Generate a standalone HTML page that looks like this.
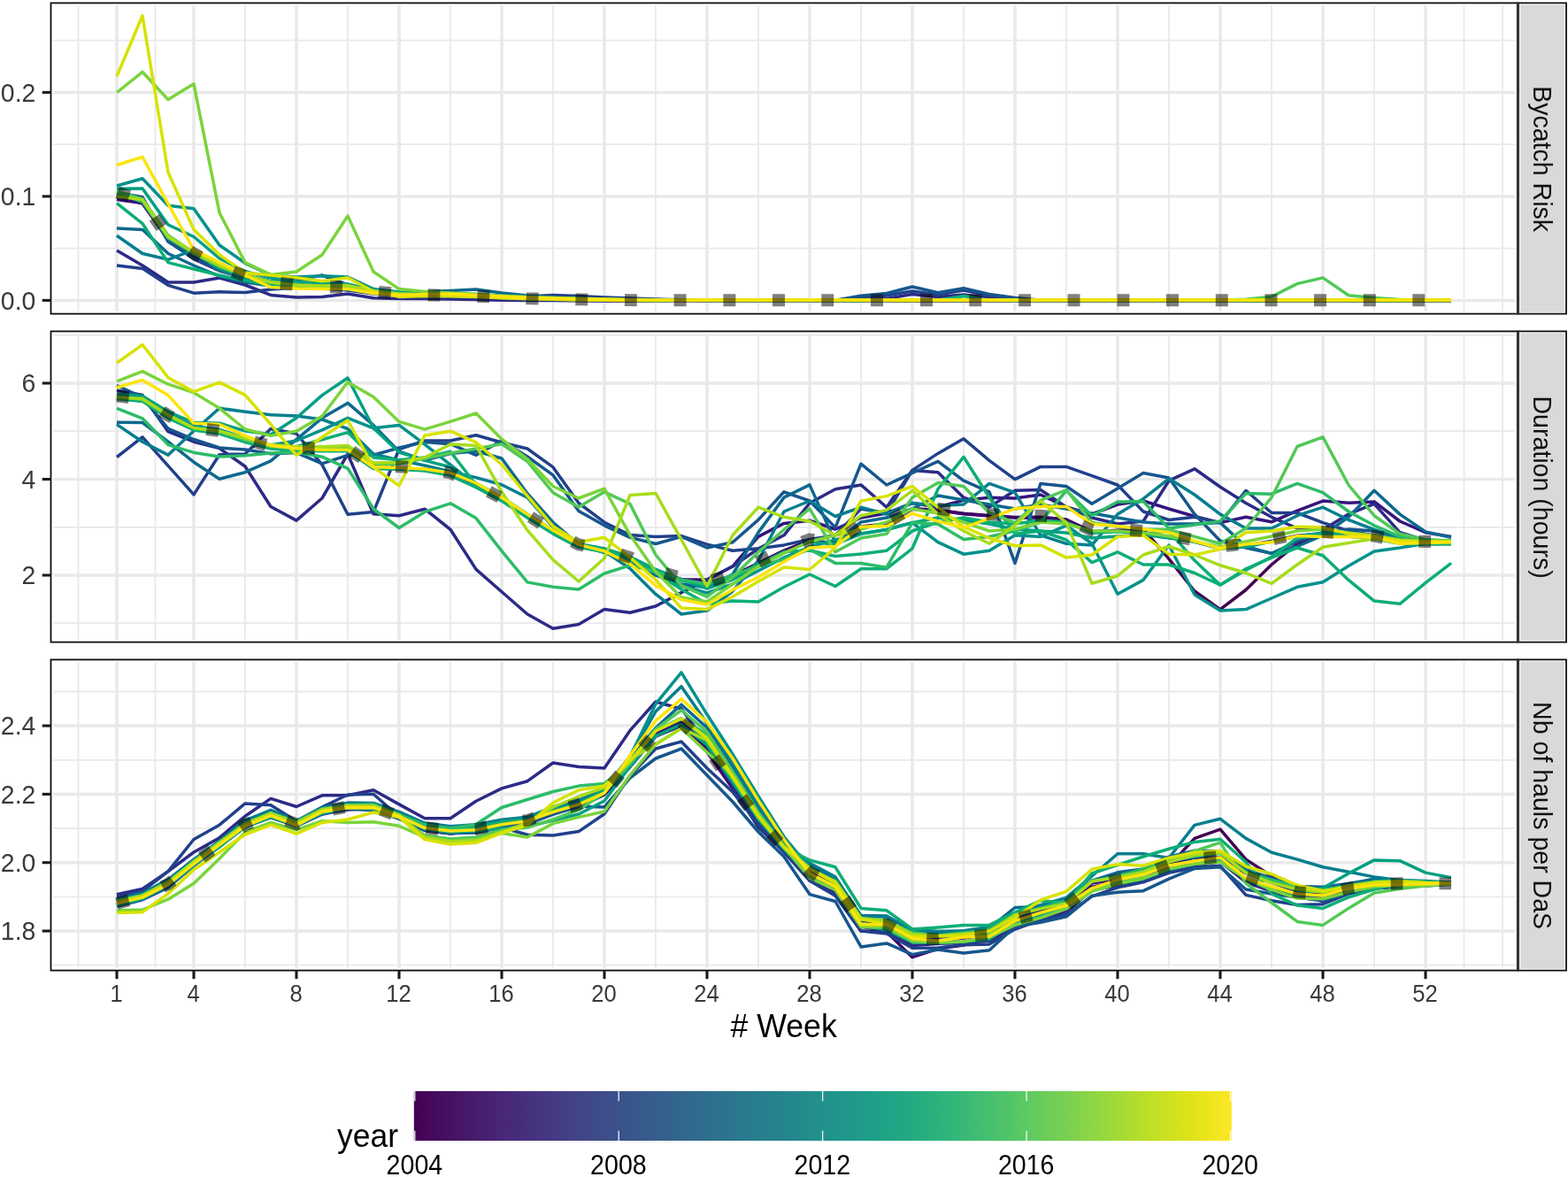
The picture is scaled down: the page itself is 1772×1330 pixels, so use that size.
<!DOCTYPE html>
<html lang="en"><head><meta charset="utf-8"><title>Weekly bycatch risk, duration and hauls per DaS by year</title>
<style>html,body{margin:0;padding:0;background:#fff}body{width:1772px;height:1330px;overflow:hidden}svg{display:block}text{font-family:"Liberation Sans", sans-serif}</style>
</head><body>
<svg width="1772" height="1330" viewBox="0 0 1772 1330">
<rect width="1772" height="1330" fill="#fff"/>
<g id="panel1">
<clipPath id="clip0"><rect x="60.1" y="6.1" width="1651.7" height="345.7"/></clipPath>
<path d="M60.1 280.6H1711.8M60.1 163.2H1711.8M60.1 45.7H1711.8M88.5 6.1V351.8M175.5 6.1V351.8M277.0 6.1V351.8M393.0 6.1V351.8M509.0 6.1V351.8M625.0 6.1V351.8M741.0 6.1V351.8M857.0 6.1V351.8M973.0 6.1V351.8M1089.0 6.1V351.8M1205.0 6.1V351.8M1321.0 6.1V351.8M1437.0 6.1V351.8M1553.0 6.1V351.8M1654.5 6.1V351.8M1698.0 6.1V351.8" stroke="#e9e9e9" stroke-width="1.8" fill="none"/>
<path d="M60.1 339.4H1711.8M60.1 221.9H1711.8M60.1 104.4H1711.8M132.0 6.1V351.8M219.0 6.1V351.8M335.0 6.1V351.8M451.0 6.1V351.8M567.0 6.1V351.8M683.0 6.1V351.8M799.0 6.1V351.8M915.0 6.1V351.8M1031.0 6.1V351.8M1147.0 6.1V351.8M1263.0 6.1V351.8M1379.0 6.1V351.8M1495.0 6.1V351.8M1611.0 6.1V351.8" stroke="#e9e9e9" stroke-width="3.5" fill="none"/>
<g clip-path="url(#clip0)" fill="none" stroke-linejoin="round" stroke-linecap="butt" stroke-width="3.5">
<path d="M132.0 219.0L161.0 226.5L190.0 267.5L219.0 286.0L248.0 300.5L277.0 311.0L306.0 318.0L335.0 321.5L364.0 323.5L393.0 324.5L422.0 329.0L451.0 331.5L480.0 333.0L509.0 334.3L538.0 335.0L567.0 336.4L596.0 337.5L625.0 338.1L654.0 338.6L683.0 339.0L712.0 339.2L741.0 339.4L770.0 339.3L799.0 339.4L828.0 339.4L857.0 339.4L886.0 339.4L915.0 339.4L944.0 339.4L973.0 339.4L1002.0 339.4L1031.0 339.4L1060.0 339.4L1089.0 339.4L1118.0 339.4L1147.0 339.4L1176.0 339.4L1205.0 339.4L1234.0 339.4L1263.0 339.4L1292.0 339.4L1321.0 339.4L1350.0 339.4L1379.0 339.4L1408.0 339.4L1437.0 339.4L1466.0 339.4L1495.0 339.4L1524.0 339.4L1553.0 339.4L1582.0 339.4L1611.0 339.4L1640.0 339.4" stroke="#440054"/>
<path d="M132.0 221.0L161.0 230.0L190.0 270.0L219.0 289.0L248.0 303.0L277.0 313.0L306.0 319.5L335.0 323.0L364.0 325.0L393.0 327.0L422.0 331.0L451.0 333.5L480.0 335.0L509.0 336.1L538.0 336.6L567.0 337.8L596.0 338.8L625.0 339.2L654.0 339.5L683.0 339.7L712.0 339.8L741.0 339.8L770.0 339.5L799.0 339.9L828.0 339.9L857.0 339.9L886.0 339.9L915.0 339.9L944.0 339.9L973.0 339.9L1002.0 339.9L1031.0 339.9L1060.0 339.9L1089.0 339.9L1118.0 339.9L1147.0 339.9L1176.0 339.9L1205.0 339.9L1234.0 339.9L1263.0 339.9L1292.0 339.9L1321.0 339.9L1350.0 339.9L1379.0 339.9L1408.0 339.9L1437.0 339.9L1466.0 339.9L1495.0 339.9L1524.0 339.9L1553.0 339.9L1582.0 339.9L1611.0 339.9L1640.0 339.9" stroke="#3e006a"/>
<path d="M132.0 225.5L161.0 229.6L190.0 271.0L219.0 292.6L248.0 306.0L277.0 314.0L306.0 319.0L335.0 323.0L364.0 325.0L393.0 326.0L422.0 331.0L451.0 333.0L480.0 334.0L509.0 334.7L538.0 335.4L567.0 336.7L596.0 337.8L625.0 338.3L654.0 338.9L683.0 339.2L712.0 339.4L741.0 339.5L770.0 339.4L799.0 339.6L828.0 339.6L857.0 339.6L886.0 339.6L915.0 339.6L944.0 339.6L973.0 339.6L1002.0 339.6L1031.0 339.6L1060.0 339.6L1089.0 339.6L1118.0 339.6L1147.0 339.6L1176.0 339.6L1205.0 339.6L1234.0 339.6L1263.0 339.6L1292.0 339.6L1321.0 339.6L1350.0 339.6L1379.0 339.6L1408.0 339.6L1437.0 339.6L1466.0 339.6L1495.0 339.6L1524.0 339.6L1553.0 339.6L1582.0 339.6L1611.0 339.6L1640.0 339.6" stroke="#36147b"/>
<path d="M132.0 283.0L161.0 300.0L190.0 319.0L219.0 319.0L248.0 314.0L277.0 322.0L306.0 333.4L335.0 335.9L364.0 335.4L393.0 332.0L422.0 336.8L451.0 337.5L480.0 337.6L509.0 338.0L538.0 338.6L567.0 339.2L596.0 339.5L625.0 339.4L654.0 339.8L683.0 339.9L712.0 339.9L741.0 339.8L770.0 339.6L799.0 340.1L828.0 340.1L857.0 340.1L886.0 340.1L915.0 340.1L944.0 340.1L973.0 340.1L1002.0 337.5L1031.0 332.5L1060.0 335.5L1089.0 333.0L1118.0 336.5L1147.0 338.7L1176.0 339.3L1205.0 340.1L1234.0 340.1L1263.0 340.1L1292.0 340.1L1321.0 340.1L1350.0 340.1L1379.0 340.1L1408.0 340.1L1437.0 340.1L1466.0 340.1L1495.0 340.1L1524.0 340.1L1553.0 340.1L1582.0 340.1L1611.0 340.1L1640.0 340.1" stroke="#2c2a86"/>
<path d="M132.0 300.0L161.0 303.4L190.0 322.4L219.0 331.2L248.0 329.8L277.0 330.5L306.0 327.0L335.0 325.0L364.0 326.0L393.0 328.0L422.0 332.0L451.0 334.0L480.0 335.0L509.0 335.5L538.0 336.0L567.0 336.0L596.0 335.0L625.0 333.5L654.0 334.5L683.0 336.0L712.0 337.0L741.0 338.0L770.0 338.8L799.0 339.3L828.0 339.3L857.0 339.3L886.0 339.3L915.0 339.3L944.0 339.3L973.0 337.0L1002.0 334.0L1031.0 329.0L1060.0 333.0L1089.0 328.0L1118.0 334.0L1147.0 338.0L1176.0 339.3L1205.0 339.3L1234.0 339.3L1263.0 339.3L1292.0 339.3L1321.0 339.3L1350.0 339.3L1379.0 339.3L1408.0 339.3L1437.0 339.3L1466.0 339.3L1495.0 339.3L1524.0 339.3L1553.0 339.3L1582.0 339.3L1611.0 339.3L1640.0 339.3" stroke="#21408b"/>
<path d="M132.0 217.5L161.0 222.8L190.0 273.0L219.0 292.0L248.0 305.4L277.0 313.0L306.0 318.0L335.0 316.5L364.0 311.0L393.0 322.0L422.0 330.0L451.0 333.0L480.0 333.0L509.0 332.9L538.0 333.8L567.0 335.3L596.0 336.6L625.0 337.3L654.0 337.9L683.0 338.4L712.0 338.8L741.0 339.1L770.0 339.2L799.0 339.1L828.0 339.1L857.0 339.1L886.0 339.1L915.0 339.1L944.0 339.3L973.0 334.2L1002.0 331.5L1031.0 324.0L1060.0 330.8L1089.0 325.8L1118.0 332.4L1147.0 336.4L1176.0 339.3L1205.0 339.1L1234.0 339.1L1263.0 339.1L1292.0 339.1L1321.0 339.1L1350.0 339.1L1379.0 339.1L1408.0 339.1L1437.0 339.1L1466.0 339.1L1495.0 339.1L1524.0 339.1L1553.0 339.1L1582.0 339.1L1611.0 339.1L1640.0 339.1" stroke="#16568d"/>
<path d="M132.0 258.0L161.0 259.4L190.0 286.5L219.0 300.0L248.0 312.2L277.0 319.0L306.0 323.0L335.0 325.0L364.0 326.0L393.0 327.0L422.0 330.0L451.0 331.0L480.0 329.8L509.0 328.4L538.0 327.0L567.0 331.0L596.0 334.0L625.0 336.0L654.0 337.5L683.0 338.5L712.0 339.3L741.0 339.3L770.0 339.3L799.0 339.3L828.0 339.3L857.0 339.3L886.0 339.3L915.0 339.3L944.0 339.3L973.0 339.3L1002.0 339.3L1031.0 339.3L1060.0 339.3L1089.0 339.3L1118.0 339.3L1147.0 339.3L1176.0 339.3L1205.0 339.3L1234.0 339.3L1263.0 339.3L1292.0 339.3L1321.0 339.3L1350.0 339.3L1379.0 339.3L1408.0 339.3L1437.0 339.3L1466.0 339.3L1495.0 339.3L1524.0 339.3L1553.0 339.3L1582.0 339.3L1611.0 339.3L1640.0 339.3" stroke="#0d698e"/>
<path d="M132.0 266.2L161.0 286.5L190.0 293.3L219.0 282.4L248.0 305.4L277.0 314.0L306.0 320.0L335.0 323.0L364.0 324.5L393.0 325.0L422.0 329.0L451.0 331.5L480.0 332.5L509.0 332.4L538.0 333.4L567.0 334.9L596.0 336.2L625.0 337.0L654.0 337.7L683.0 338.3L712.0 338.7L741.0 339.0L770.0 339.2L799.0 338.9L828.0 338.9L857.0 338.9L886.0 338.9L915.0 338.9L944.0 338.9L973.0 338.9L1002.0 338.9L1031.0 338.9L1060.0 338.9L1089.0 338.9L1118.0 338.9L1147.0 338.9L1176.0 338.9L1205.0 338.9L1234.0 338.9L1263.0 338.9L1292.0 338.9L1321.0 338.9L1350.0 338.9L1379.0 338.9L1408.0 338.9L1437.0 338.9L1466.0 338.9L1495.0 338.9L1524.0 338.9L1553.0 338.9L1582.0 338.9L1611.0 338.9L1640.0 338.9" stroke="#057e8e"/>
<path d="M132.0 210.0L161.0 201.8L190.0 232.3L219.0 235.7L248.0 277.0L277.0 297.3L306.0 311.0L335.0 313.0L364.0 311.7L393.0 313.0L422.0 326.6L451.0 330.0L480.0 331.0L509.0 331.5L538.0 332.6L567.0 334.2L596.0 335.6L625.0 336.4L654.0 337.3L683.0 337.9L712.0 338.4L741.0 338.8L770.0 339.1L799.0 338.7L828.0 338.7L857.0 338.7L886.0 338.7L915.0 338.7L944.0 338.7L973.0 338.7L1002.0 338.7L1031.0 338.7L1060.0 338.7L1089.0 338.7L1118.0 338.7L1147.0 338.7L1176.0 338.7L1205.0 338.7L1234.0 338.7L1263.0 338.7L1292.0 338.7L1321.0 338.7L1350.0 338.7L1379.0 338.7L1408.0 338.7L1437.0 338.7L1466.0 338.7L1495.0 338.7L1524.0 338.7L1553.0 338.7L1582.0 338.7L1611.0 338.7L1640.0 338.7" stroke="#02918b"/>
<path d="M132.0 213.3L161.0 213.0L190.0 254.0L219.0 267.5L248.0 292.0L277.0 306.8L306.0 314.0L335.0 318.0L364.0 320.0L393.0 321.0L422.0 328.0L451.0 331.0L480.0 332.0L509.0 332.4L538.0 333.4L567.0 334.9L596.0 336.2L625.0 337.0L654.0 337.7L683.0 338.3L712.0 338.7L741.0 339.0L770.0 339.2L799.0 338.9L828.0 338.9L857.0 338.9L886.0 338.9L915.0 338.9L944.0 338.9L973.0 338.9L1002.0 338.9L1031.0 338.9L1060.0 338.9L1089.0 338.9L1118.0 338.9L1147.0 338.9L1176.0 338.9L1205.0 338.9L1234.0 338.9L1263.0 338.9L1292.0 338.9L1321.0 338.9L1350.0 338.9L1379.0 338.9L1408.0 338.9L1437.0 338.9L1466.0 338.9L1495.0 338.9L1524.0 338.9L1553.0 338.9L1582.0 338.9L1611.0 338.9L1640.0 338.9" stroke="#00a082"/>
<path d="M132.0 229.6L161.0 252.6L190.0 296.6L219.0 304.0L248.0 311.0L277.0 317.0L306.0 322.0L335.0 324.0L364.0 325.5L393.0 326.0L422.0 330.0L451.0 332.0L480.0 333.5L509.0 334.3L538.0 335.0L567.0 336.4L596.0 337.5L625.0 338.1L654.0 338.6L683.0 339.0L712.0 339.2L741.0 339.4L770.0 339.3L799.0 339.4L828.0 339.4L857.0 339.4L886.0 339.4L915.0 339.4L944.0 339.4L973.0 339.4L1002.0 339.4L1031.0 339.4L1060.0 339.3L1089.0 334.5L1118.0 339.3L1147.0 339.4L1176.0 339.4L1205.0 339.4L1234.0 339.4L1263.0 339.4L1292.0 339.4L1321.0 339.4L1350.0 339.4L1379.0 339.4L1408.0 339.4L1437.0 339.4L1466.0 339.4L1495.0 339.4L1524.0 339.4L1553.0 339.4L1582.0 339.4L1611.0 339.4L1640.0 339.4" stroke="#0cae76"/>
<path d="M132.0 218.0L161.0 228.0L190.0 269.0L219.0 287.0L248.0 302.0L277.0 312.5L306.0 319.0L335.0 322.5L364.0 324.0L393.0 325.5L422.0 330.0L451.0 332.5L480.0 333.5L509.0 334.3L538.0 335.0L567.0 336.4L596.0 337.5L625.0 338.1L654.0 338.6L683.0 339.0L712.0 339.2L741.0 339.4L770.0 339.3L799.0 339.4L828.0 339.4L857.0 339.4L886.0 339.4L915.0 339.4L944.0 339.4L973.0 339.4L1002.0 339.4L1031.0 339.4L1060.0 339.4L1089.0 339.4L1118.0 339.4L1147.0 339.4L1176.0 339.4L1205.0 339.4L1234.0 339.4L1263.0 339.4L1292.0 339.4L1321.0 339.4L1350.0 339.4L1379.0 339.4L1408.0 339.4L1437.0 339.4L1466.0 339.4L1495.0 339.4L1524.0 339.4L1553.0 339.4L1582.0 339.4L1611.0 339.4L1640.0 339.4" stroke="#2cbc68"/>
<path d="M132.0 216.0L161.0 225.0L190.0 266.0L219.0 285.5L248.0 300.5L277.0 311.5L306.0 318.0L335.0 321.5L364.0 323.5L393.0 324.5L422.0 329.0L451.0 331.5L480.0 333.0L509.0 333.3L538.0 334.2L567.0 335.6L596.0 336.9L625.0 337.5L654.0 338.2L683.0 338.6L712.0 339.0L741.0 339.2L770.0 339.3L799.0 339.2L828.0 339.2L857.0 339.2L886.0 339.2L915.0 339.2L944.0 339.2L973.0 339.2L1002.0 339.2L1031.0 339.2L1060.0 339.2L1089.0 339.2L1118.0 339.2L1147.0 339.2L1176.0 339.2L1205.0 339.2L1234.0 339.2L1263.0 339.2L1292.0 339.2L1321.0 339.2L1350.0 339.2L1379.0 339.3L1408.0 338.2L1437.0 335.3L1466.0 320.6L1495.0 313.9L1524.0 333.7L1553.0 336.4L1582.0 338.5L1611.0 339.3L1640.0 339.2" stroke="#51c956"/>
<path d="M132.0 104.5L161.0 81.3L190.0 112.6L219.0 94.8L248.0 240.4L277.0 296.6L306.0 310.4L335.0 307.0L364.0 288.0L393.0 244.0L422.0 307.0L451.0 326.6L480.0 329.4L509.0 331.0L538.0 332.6L567.0 334.2L596.0 335.6L625.0 336.4L654.0 337.3L683.0 337.9L712.0 338.4L741.0 338.8L770.0 339.1L799.0 338.7L828.0 338.7L857.0 338.7L886.0 338.7L915.0 338.7L944.0 338.7L973.0 338.7L1002.0 338.7L1031.0 338.7L1060.0 338.7L1089.0 338.7L1118.0 338.7L1147.0 338.7L1176.0 338.7L1205.0 338.7L1234.0 338.7L1263.0 338.7L1292.0 338.7L1321.0 338.7L1350.0 338.7L1379.0 338.7L1408.0 338.7L1437.0 338.7L1466.0 338.7L1495.0 338.7L1524.0 338.7L1553.0 338.7L1582.0 338.7L1611.0 338.7L1640.0 338.7" stroke="#7ad43b"/>
<path d="M132.0 222.0L161.0 225.5L190.0 267.5L219.0 285.0L248.0 300.0L277.0 311.0L306.0 319.0L335.0 322.6L364.0 323.0L393.0 322.6L422.0 328.7L451.0 332.0L480.0 333.0L509.0 333.8L538.0 334.6L567.0 336.0L596.0 337.2L625.0 337.8L654.0 338.4L683.0 338.8L712.0 339.1L741.0 339.3L770.0 339.3L799.0 339.3L828.0 339.3L857.0 339.3L886.0 339.3L915.0 339.3L944.0 339.3L973.0 339.3L1002.0 339.3L1031.0 339.3L1060.0 339.3L1089.0 339.3L1118.0 339.3L1147.0 339.3L1176.0 339.3L1205.0 339.3L1234.0 339.3L1263.0 339.3L1292.0 339.3L1321.0 339.3L1350.0 339.3L1379.0 339.3L1408.0 339.3L1437.0 339.3L1466.0 339.3L1495.0 339.3L1524.0 339.3L1553.0 339.3L1582.0 339.3L1611.0 339.3L1640.0 339.3" stroke="#a7dc1b"/>
<path d="M132.0 86.3L161.0 17.8L190.0 194.7L219.0 259.4L248.0 287.8L277.0 308.2L306.0 311.0L335.0 313.8L364.0 317.8L393.0 313.8L422.0 329.4L451.0 335.4L480.0 334.5L509.0 334.7L538.0 335.4L567.0 336.7L596.0 337.8L625.0 338.3L654.0 338.9L683.0 339.2L712.0 339.4L741.0 339.5L770.0 339.4L799.0 339.6L828.0 339.6L857.0 339.6L886.0 339.6L915.0 339.6L944.0 339.6L973.0 339.6L1002.0 339.6L1031.0 339.6L1060.0 339.6L1089.0 339.6L1118.0 339.6L1147.0 339.6L1176.0 339.6L1205.0 339.6L1234.0 339.6L1263.0 339.6L1292.0 339.6L1321.0 339.6L1350.0 339.6L1379.0 339.6L1408.0 339.6L1437.0 339.6L1466.0 339.6L1495.0 339.6L1524.0 339.6L1553.0 339.6L1582.0 339.6L1611.0 339.6L1640.0 339.6" stroke="#d7e201"/>
<path d="M132.0 186.5L161.0 177.4L190.0 230.3L219.0 282.4L248.0 296.6L277.0 310.9L306.0 324.6L335.0 326.0L364.0 326.5L393.0 326.6L422.0 331.4L451.0 333.4L480.0 332.5L509.0 332.0L538.0 333.4L567.0 334.9L596.0 336.2L625.0 337.0L654.0 337.7L683.0 338.3L712.0 338.7L741.0 339.0L770.0 339.2L799.0 338.9L828.0 338.9L857.0 338.9L886.0 338.9L915.0 338.9L944.0 338.9L973.0 338.9L1002.0 338.9L1031.0 338.9L1060.0 338.9L1089.0 338.9L1118.0 338.9L1147.0 338.9L1176.0 338.9L1205.0 338.9L1234.0 338.9L1263.0 338.9L1292.0 338.9L1321.0 338.9L1350.0 338.9L1379.0 338.9L1408.0 338.9L1437.0 338.9L1466.0 338.9L1495.0 338.9L1524.0 338.9L1553.0 338.9L1582.0 338.9L1611.0 338.9L1640.0 338.9" stroke="#fde40b"/>
</g>
<path d="M132.7 217.6L145.9 221.8M174.4 245.7L182.4 257.1M214.5 283.6L219.0 286.5L226.6 290.4M263.3 307.0L276.3 311.8M317.0 319.9L330.8 321.5M373.2 324.3L387.0 324.8M428.0 330.0L441.8 331.2M483.6 333.3L497.4 333.6M539.4 334.7L553.2 335.3M594.7 337.1L596.0 337.2L608.5 337.5M650.4 338.3L654.0 338.4L664.2 338.5M706.0 339.0L712.0 339.1L719.8 339.2M761.6 339.3L770.0 339.3L775.6 339.3M817.4 339.3L828.0 339.3L831.4 339.3M873.0 339.3L886.0 339.3L887.0 339.3M928.3 339.3L942.2 339.3M984.0 339.3L998.0 339.3M1040.0 339.3L1054.0 339.3M1095.3 339.3L1109.2 339.3M1151.1 339.3L1165.0 339.3M1206.6 339.3L1220.5 339.3M1262.5 339.3L1263.0 339.3L1276.4 339.3M1318.0 339.3L1321.0 339.3L1332.0 339.3M1373.8 339.3L1379.0 339.3L1387.8 339.3M1429.5 339.3L1437.0 339.3L1443.5 339.3M1485.0 339.3L1495.0 339.3L1499.0 339.3M1540.8 339.3L1553.0 339.3L1554.8 339.3M1596.3 339.3L1610.2 339.3" fill="none" stroke="#000" stroke-opacity="0.5" stroke-width="13.9" stroke-linejoin="miter" stroke-linecap="butt"/>
<rect x="57.5" y="3.4" width="1657.9" height="351.2" fill="none" stroke="#0d0d0d" stroke-width="1.8"/>
<rect x="1715.4" y="3.4" width="54.6" height="351.2" fill="#d9d9d9" stroke="#0d0d0d" stroke-width="1.8"/>
<rect x="1717.7" y="5.0" width="50.7" height="348.0" fill="none" stroke="#fff" stroke-opacity="0.55" stroke-width="1.3"/>
<path d="M1715.4 2.9V355.1" stroke="#303030" stroke-width="3"/>
<text transform="translate(1732.8 179.6) rotate(90) scale(0.958 1)" text-anchor="middle" font-size="29.8" fill="#111">Bycatch Risk</text>
<path d="M47.7 339.4H57.0" stroke="#1a1a1a" stroke-width="3.1"/>
<text transform="translate(40.3 349.6) scale(0.94 1)" text-anchor="end" font-size="30.2" fill="#3a3a3a">0.0</text>
<path d="M47.7 221.9H57.0" stroke="#1a1a1a" stroke-width="3.1"/>
<text transform="translate(40.3 232.1) scale(0.94 1)" text-anchor="end" font-size="30.2" fill="#3a3a3a">0.1</text>
<path d="M47.7 104.4H57.0" stroke="#1a1a1a" stroke-width="3.1"/>
<text transform="translate(40.3 114.6) scale(0.94 1)" text-anchor="end" font-size="30.2" fill="#3a3a3a">0.2</text>
</g>
<g id="panel2">
<clipPath id="clip1"><rect x="60.1" y="377.1" width="1651.7" height="345.7"/></clipPath>
<path d="M60.1 704.2H1711.8M60.1 595.8H1711.8M60.1 487.2H1711.8M60.1 378.8H1711.8M88.5 377.1V722.8M175.5 377.1V722.8M277.0 377.1V722.8M393.0 377.1V722.8M509.0 377.1V722.8M625.0 377.1V722.8M741.0 377.1V722.8M857.0 377.1V722.8M973.0 377.1V722.8M1089.0 377.1V722.8M1205.0 377.1V722.8M1321.0 377.1V722.8M1437.0 377.1V722.8M1553.0 377.1V722.8M1654.5 377.1V722.8M1698.0 377.1V722.8" stroke="#e9e9e9" stroke-width="1.8" fill="none"/>
<path d="M60.1 650.0H1711.8M60.1 541.5H1711.8M60.1 433.0H1711.8M132.0 377.1V722.8M219.0 377.1V722.8M335.0 377.1V722.8M451.0 377.1V722.8M567.0 377.1V722.8M683.0 377.1V722.8M799.0 377.1V722.8M915.0 377.1V722.8M1031.0 377.1V722.8M1147.0 377.1V722.8M1263.0 377.1V722.8M1379.0 377.1V722.8M1495.0 377.1V722.8M1611.0 377.1V722.8" stroke="#e9e9e9" stroke-width="3.5" fill="none"/>
<g clip-path="url(#clip1)" fill="none" stroke-linejoin="round" stroke-linecap="butt" stroke-width="3.5">
<path d="M132.0 449.2L161.0 451.9L190.0 470.9L219.0 484.5L248.0 488.5L277.0 498.0L306.0 505.6L335.0 507.7L364.0 508.3L393.0 508.3L422.0 528.0L451.0 528.7L480.0 530.5L509.0 535.9L538.0 549.2L567.0 564.6L596.0 583.5L625.0 601.6L654.0 616.9L683.0 622.4L712.0 631.4L741.0 646.0L770.0 654.5L799.0 659.2L828.0 650.5L857.0 636.3L886.0 622.1L915.0 610.5L944.0 614.0L973.0 595.0L1002.0 592.1L1031.0 574.7L1060.0 576.3L1089.0 580.3L1118.0 582.6L1147.0 584.5L1176.0 584.2L1205.0 587.0L1234.0 600.8L1263.0 599.2L1292.0 597.7L1321.0 631.7L1350.0 668.0L1379.0 688.6L1408.0 666.5L1437.0 638.0L1466.0 614.3L1495.0 604.8L1524.0 604.8L1553.0 607.1L1582.0 612.7L1611.0 613.5L1640.0 613.5" stroke="#440054"/>
<path d="M132.0 449.7L161.0 452.4L190.0 471.4L219.0 485.0L248.0 489.0L277.0 498.5L306.0 506.1L335.0 508.2L364.0 508.8L393.0 508.8L422.0 528.5L451.0 529.2L480.0 531.0L509.0 536.4L538.0 549.7L567.0 565.1L596.0 584.0L625.0 602.1L654.0 617.4L683.0 622.9L712.0 631.9L741.0 646.5L770.0 655.0L799.0 659.7L828.0 651.0L857.0 636.8L886.0 622.6L915.0 611.5L944.0 614.7L973.0 595.5L1002.0 592.6L1031.0 575.2L1060.0 576.8L1089.0 580.8L1118.0 583.1L1147.0 585.0L1176.0 584.7L1205.0 587.5L1234.0 601.3L1263.0 599.7L1292.0 602.0L1321.0 606.8L1350.0 612.4L1379.0 619.5L1408.0 616.3L1437.0 611.6L1466.0 605.3L1495.0 602.9L1524.0 605.3L1553.0 607.6L1582.0 613.2L1611.0 614.0L1640.0 614.0" stroke="#3e006b"/>
<path d="M132.0 450.2L161.0 452.9L190.0 471.9L219.0 485.5L248.0 489.5L277.0 499.0L306.0 506.6L335.0 508.7L364.0 509.3L393.0 509.3L422.0 529.0L451.0 529.7L480.0 531.5L509.0 536.9L538.0 550.2L567.0 565.6L596.0 584.5L625.0 602.6L654.0 617.9L683.0 623.4L712.0 632.4L741.0 650.0L770.0 655.0L799.0 655.0L828.0 640.0L857.0 606.4L886.0 591.4L915.0 588.2L944.0 598.0L973.0 585.0L1002.0 580.0L1031.0 568.5L1060.0 573.0L1089.0 565.3L1118.0 562.2L1147.0 563.0L1176.0 559.0L1205.0 573.0L1234.0 581.0L1263.0 570.0L1292.0 566.0L1321.0 575.0L1350.0 583.5L1379.0 590.6L1408.0 584.3L1437.0 589.8L1466.0 577.2L1495.0 566.1L1524.0 568.2L1553.0 566.9L1582.0 589.0L1611.0 601.7L1640.0 606.4" stroke="#36147b"/>
<path d="M132.0 441.0L161.0 446.4L190.0 487.7L219.0 499.2L248.0 506.6L277.0 527.0L306.0 572.5L335.0 588.1L364.0 563.0L393.0 513.0L422.0 580.7L451.0 582.7L480.0 575.2L509.0 598.3L538.0 643.4L567.0 668.7L596.0 694.0L625.0 710.3L654.0 705.4L683.0 688.6L712.0 692.2L741.0 685.0L770.0 669.6L799.0 655.0L828.0 640.0L857.0 620.0L886.0 604.8L915.0 568.5L944.0 552.7L973.0 547.9L1002.0 573.2L1031.0 531.4L1060.0 533.7L1089.0 562.2L1118.0 573.0L1147.0 554.3L1176.0 553.5L1205.0 573.0L1234.0 585.0L1263.0 592.0L1292.0 589.0L1321.0 543.2L1350.0 529.8L1379.0 550.3L1408.0 568.5L1437.0 584.3L1466.0 597.0L1495.0 598.5L1524.0 581.0L1553.0 569.3L1582.0 601.7L1611.0 610.4L1640.0 612.0" stroke="#2c2a86"/>
<path d="M132.0 516.5L161.0 493.9L190.0 526.4L219.0 558.9L248.0 513.7L277.0 513.0L306.0 484.5L335.0 490.0L364.0 525.1L393.0 581.3L422.0 578.6L451.0 507.5L480.0 498.0L509.0 498.0L538.0 491.7L567.0 500.0L596.0 507.0L625.0 527.9L654.0 568.5L683.0 590.2L712.0 604.6L741.0 606.4L770.0 605.6L799.0 615.1L828.0 622.2L857.0 619.8L886.0 615.9L915.0 609.5L944.0 605.0L973.0 575.0L1002.0 580.0L1031.0 531.4L1060.0 512.4L1089.0 495.8L1118.0 520.3L1147.0 541.6L1176.0 527.4L1205.0 527.4L1234.0 537.7L1263.0 548.0L1292.0 578.0L1321.0 587.5L1350.0 584.3L1379.0 590.6L1408.0 554.3L1437.0 579.5L1466.0 579.5L1495.0 590.6L1524.0 600.0L1553.0 605.0L1582.0 610.0L1611.0 612.0L1640.0 612.5" stroke="#21408b"/>
<path d="M132.0 435.5L161.0 449.0L190.0 484.3L219.0 496.5L248.0 506.0L277.0 508.0L306.0 512.7L335.0 511.6L364.0 523.8L393.0 514.3L422.0 514.3L451.0 506.0L480.0 499.4L509.0 501.7L538.0 514.3L567.0 498.0L596.0 516.0L625.0 536.9L654.0 577.5L683.0 593.8L712.0 607.3L741.0 614.5L770.0 606.4L799.0 619.0L828.0 612.7L857.0 587.4L886.0 555.8L915.0 566.0L944.0 596.1L973.0 524.2L1002.0 548.0L1031.0 534.5L1060.0 521.4L1089.0 543.2L1118.0 555.8L1147.0 636.4L1176.0 546.4L1205.0 549.5L1234.0 569.3L1263.0 551.9L1292.0 534.5L1321.0 540.0L1350.0 581.0L1379.0 611.2L1408.0 619.0L1437.0 625.4L1466.0 612.0L1495.0 602.0L1524.0 598.0L1553.0 600.0L1582.0 608.0L1611.0 611.0L1640.0 611.5" stroke="#16568d"/>
<path d="M132.0 477.3L161.0 477.5L190.0 499.2L219.0 522.2L248.0 541.2L277.0 533.7L306.0 520.9L335.0 496.7L364.0 472.3L393.0 455.4L422.0 480.4L451.0 510.2L480.0 520.0L509.0 512.5L538.0 509.8L567.0 518.0L596.0 557.7L625.0 590.2L654.0 615.4L683.0 624.5L712.0 635.0L741.0 650.0L770.0 660.0L799.0 664.0L828.0 649.0L857.0 601.6L886.0 562.1L915.0 547.9L944.0 612.7L973.0 590.0L1002.0 585.0L1031.0 575.0L1060.0 560.0L1089.0 565.0L1118.0 570.0L1147.0 575.0L1176.0 570.0L1205.0 575.0L1234.0 580.0L1263.0 585.0L1292.0 590.0L1321.0 592.0L1350.0 592.0L1379.0 590.6L1408.0 617.5L1437.0 625.4L1466.0 617.5L1495.0 604.8L1524.0 584.3L1553.0 554.3L1582.0 581.1L1611.0 600.9L1640.0 607.2" stroke="#0d698e"/>
<path d="M132.0 479.6L161.0 499.2L190.0 514.1L219.0 487.0L248.0 461.3L277.0 465.3L306.0 468.7L335.0 470.0L364.0 474.0L393.0 484.5L422.0 513.0L451.0 520.0L480.0 526.0L509.0 533.0L538.0 539.6L567.0 547.7L596.0 562.2L625.0 595.6L654.0 617.3L683.0 622.7L712.0 642.5L741.0 671.4L770.0 694.0L799.0 690.0L828.0 668.0L857.0 633.3L886.0 578.0L915.0 566.0L944.0 583.5L973.0 573.2L1002.0 581.1L1031.0 568.5L1060.0 571.6L1089.0 570.0L1118.0 546.4L1147.0 556.6L1176.0 604.8L1205.0 614.3L1234.0 615.9L1263.0 581.0L1292.0 563.7L1321.0 540.8L1350.0 559.0L1379.0 581.1L1408.0 597.0L1437.0 597.0L1466.0 582.7L1495.0 573.2L1524.0 587.5L1553.0 598.5L1582.0 608.0L1611.0 611.0L1640.0 612.0" stroke="#057e8e"/>
<path d="M132.0 446.5L161.0 449.0L190.0 468.0L219.0 481.5L248.0 485.5L277.0 495.0L306.0 503.0L335.0 498.0L364.0 485.8L393.0 472.3L422.0 483.8L451.0 480.4L480.0 502.1L509.0 525.1L538.0 548.5L567.0 564.0L596.0 583.0L625.0 601.0L654.0 616.5L683.0 622.0L712.0 631.0L741.0 646.0L770.0 662.0L799.0 670.0L828.0 660.0L857.0 645.0L886.0 630.0L915.0 618.0L944.0 610.0L973.0 603.0L1002.0 598.5L1031.0 590.6L1060.0 612.7L1089.0 626.2L1118.0 622.2L1147.0 604.8L1176.0 606.4L1205.0 593.8L1234.0 614.3L1263.0 671.2L1292.0 655.4L1321.0 616.0L1350.0 672.0L1379.0 690.0L1408.0 688.6L1437.0 676.0L1466.0 663.3L1495.0 657.8L1524.0 639.6L1553.0 623.0L1582.0 619.0L1611.0 614.3L1640.0 612.7" stroke="#02918b"/>
<path d="M132.0 445.0L161.0 447.5L190.0 465.3L219.0 477.5L248.0 478.2L277.0 487.0L306.0 491.0L335.0 472.3L364.0 446.6L393.0 427.0L422.0 483.8L451.0 511.0L480.0 520.4L509.0 527.8L538.0 546.0L567.0 562.0L596.0 581.0L625.0 599.0L654.0 614.5L683.0 620.0L712.0 629.0L741.0 643.5L770.0 655.0L799.0 665.0L828.0 655.0L857.0 640.0L886.0 625.0L915.0 612.0L944.0 615.0L973.0 603.3L1002.0 598.5L1031.0 590.6L1060.0 585.0L1089.0 588.0L1118.0 592.0L1147.0 598.0L1176.0 600.0L1205.0 602.0L1234.0 608.0L1263.0 606.0L1292.0 604.0L1321.0 608.0L1350.0 612.0L1379.0 620.0L1408.0 618.0L1437.0 612.0L1466.0 606.0L1495.0 602.0L1524.0 604.0L1553.0 607.0L1582.0 611.0L1611.0 612.0L1640.0 612.0" stroke="#00a082"/>
<path d="M132.0 449.0L161.0 452.0L190.0 471.0L219.0 484.5L248.0 488.5L277.0 498.0L306.0 505.5L335.0 504.8L364.0 496.7L393.0 488.6L422.0 517.0L451.0 519.7L480.0 517.0L509.0 510.2L538.0 548.0L567.0 563.5L596.0 582.5L625.0 600.5L654.0 616.0L683.0 621.5L712.0 630.5L741.0 647.0L770.0 666.0L799.0 682.2L828.0 679.0L857.0 679.9L886.0 663.3L915.0 649.0L944.0 662.5L973.0 642.7L1002.0 642.7L1031.0 619.8L1060.0 552.7L1089.0 516.3L1118.0 562.2L1147.0 603.3L1176.0 600.0L1205.0 610.0L1234.0 635.6L1263.0 623.8L1292.0 638.0L1321.0 638.0L1350.0 647.5L1379.0 661.0L1408.0 642.8L1437.0 630.1L1466.0 619.0L1495.0 627.7L1524.0 655.4L1553.0 679.1L1582.0 682.3L1611.0 658.6L1640.0 636.4" stroke="#0cae76"/>
<path d="M132.0 450.7L161.0 453.4L190.0 472.4L219.0 486.0L248.0 490.0L277.0 499.5L306.0 507.1L335.0 509.2L364.0 509.8L393.0 509.8L422.0 529.5L451.0 530.2L480.0 532.0L509.0 537.4L538.0 550.7L567.0 566.1L596.0 585.0L625.0 603.1L654.0 618.4L683.0 623.9L712.0 632.9L741.0 647.5L770.0 656.0L799.0 660.7L828.0 652.0L857.0 637.8L886.0 623.6L915.0 622.0L944.0 628.5L973.0 626.1L1002.0 622.2L1031.0 600.0L1060.0 590.0L1089.0 585.0L1118.0 590.0L1147.0 592.0L1176.0 588.0L1205.0 590.0L1234.0 602.3L1263.0 600.7L1292.0 603.0L1321.0 600.0L1350.0 633.3L1379.0 661.0L1408.0 644.3L1437.0 629.3L1466.0 608.0L1495.0 603.9L1524.0 606.3L1553.0 608.6L1582.0 614.2L1611.0 615.0L1640.0 615.0" stroke="#0cae76"/>
<path d="M132.0 461.3L161.0 472.8L190.0 502.6L219.0 511.4L248.0 516.1L277.0 514.8L306.0 512.0L335.0 511.0L364.0 516.2L393.0 529.3L422.0 575.0L451.0 596.5L480.0 578.4L509.0 568.8L538.0 585.6L567.0 622.7L596.0 657.9L625.0 663.3L654.0 666.0L683.0 648.0L712.0 638.9L741.0 646.0L770.0 655.0L799.0 660.0L828.0 650.0L857.0 640.0L886.0 632.0L915.0 620.6L944.0 636.4L973.0 636.4L1002.0 641.2L1031.0 590.6L1060.0 592.2L1089.0 609.6L1118.0 606.4L1147.0 600.0L1176.0 590.0L1205.0 554.3L1234.0 582.7L1263.0 567.0L1292.0 566.6L1321.0 597.0L1350.0 593.0L1379.0 589.0L1408.0 557.4L1437.0 558.2L1466.0 546.4L1495.0 556.6L1524.0 578.0L1553.0 593.8L1582.0 606.4L1611.0 610.4L1640.0 611.2" stroke="#2cbc68"/>
<path d="M132.0 448.5L161.0 451.5L190.0 470.0L219.0 484.0L248.0 488.0L277.0 497.0L306.0 504.5L335.0 506.0L364.0 506.0L393.0 506.0L422.0 525.0L451.0 524.0L480.0 518.0L509.0 512.0L538.0 507.0L567.0 501.7L596.0 521.5L625.0 556.7L654.0 573.0L683.0 555.8L712.0 569.4L741.0 627.0L770.0 661.7L799.0 674.3L828.0 652.2L857.0 623.8L886.0 598.5L915.0 574.8L944.0 623.8L973.0 608.0L1002.0 603.2L1031.0 562.2L1060.0 545.6L1089.0 549.5L1118.0 579.5L1147.0 590.6L1176.0 565.3L1205.0 553.5L1234.0 590.6L1263.0 595.0L1292.0 598.0L1321.0 598.5L1350.0 606.4L1379.0 614.3L1408.0 597.0L1437.0 562.2L1466.0 504.5L1495.0 493.9L1524.0 548.0L1553.0 582.7L1582.0 603.3L1611.0 609.6L1640.0 611.2" stroke="#51c956"/>
<path d="M132.0 430.8L161.0 419.6L190.0 434.2L219.0 443.7L248.0 461.3L277.0 485.0L306.0 492.4L335.0 487.2L364.0 470.3L393.0 431.7L422.0 448.6L451.0 476.4L480.0 485.2L509.0 476.4L538.0 467.0L567.0 496.2L596.0 518.8L625.0 549.5L654.0 563.0L683.0 552.2L712.0 604.6L741.0 646.0L770.0 675.0L799.0 680.0L828.0 660.0L857.0 640.0L886.0 625.0L915.0 612.0L944.0 605.0L973.0 598.0L1002.0 590.0L1031.0 575.0L1060.0 580.0L1089.0 590.0L1118.0 600.0L1147.0 598.0L1176.0 590.0L1205.0 592.0L1234.0 600.0L1263.0 600.0L1292.0 602.0L1321.0 606.0L1350.0 612.0L1379.0 618.0L1408.0 612.0L1437.0 606.0L1466.0 600.0L1495.0 598.0L1524.0 602.0L1553.0 605.0L1582.0 610.0L1611.0 612.0L1640.0 612.0" stroke="#7ad43b"/>
<path d="M132.0 449.0L161.0 450.4L190.0 468.7L219.0 483.6L248.0 487.0L277.0 495.1L306.0 502.6L335.0 504.8L364.0 504.8L393.0 503.5L422.0 523.1L451.0 522.4L480.0 517.0L509.0 502.0L538.0 503.5L567.0 555.8L596.0 599.2L625.0 632.6L654.0 657.0L683.0 630.8L712.0 559.5L741.0 557.4L770.0 609.9L799.0 662.5L828.0 604.8L857.0 573.2L886.0 584.3L915.0 589.0L944.0 604.8L973.0 582.7L1002.0 576.4L1031.0 554.3L1060.0 581.1L1089.0 600.0L1118.0 614.3L1147.0 593.8L1176.0 566.1L1205.0 590.6L1234.0 659.3L1263.0 650.7L1292.0 627.0L1321.0 617.5L1350.0 627.0L1379.0 638.8L1408.0 647.5L1437.0 659.3L1466.0 638.0L1495.0 618.3L1524.0 613.5L1553.0 608.8L1582.0 611.0L1611.0 612.0L1640.0 612.0" stroke="#a7dc1b"/>
<path d="M132.0 410.1L161.0 389.5L190.0 426.7L219.0 442.6L248.0 432.1L277.0 446.4L306.0 479.5L335.0 514.5L364.0 494.0L393.0 475.0L422.0 527.8L451.0 548.8L480.0 492.0L509.0 487.2L538.0 499.9L567.0 525.0L596.0 560.4L625.0 594.7L654.0 612.7L683.0 607.3L712.0 629.9L741.0 655.2L770.0 687.0L799.0 688.6L828.0 674.3L857.0 657.0L886.0 641.0L915.0 643.5L944.0 619.0L973.0 566.1L1002.0 560.6L1031.0 549.5L1060.0 573.2L1089.0 595.4L1118.0 608.0L1147.0 616.7L1176.0 615.9L1205.0 630.1L1234.0 627.0L1263.0 606.4L1292.0 604.8L1321.0 626.2L1350.0 627.0L1379.0 620.6L1408.0 601.7L1437.0 600.0L1466.0 595.3L1495.0 596.1L1524.0 603.0L1553.0 606.0L1582.0 611.0L1611.0 612.0L1640.0 612.0" stroke="#d7e201"/>
<path d="M132.0 438.0L161.0 429.4L190.0 446.6L219.0 478.2L248.0 479.6L277.0 492.4L306.0 503.4L335.0 506.8L364.0 508.2L393.0 508.2L422.0 527.8L451.0 528.5L480.0 529.9L509.0 534.2L538.0 546.0L567.0 562.2L596.0 581.1L625.0 599.2L654.0 615.4L683.0 622.7L712.0 637.1L741.0 661.7L770.0 677.5L799.0 683.0L828.0 666.4L857.0 652.2L886.0 634.8L915.0 619.0L944.0 617.4L973.0 595.3L1002.0 594.5L1031.0 580.3L1060.0 589.0L1089.0 596.1L1118.0 585.9L1147.0 574.8L1176.0 572.4L1205.0 572.4L1234.0 592.2L1263.0 594.6L1292.0 597.7L1321.0 601.7L1350.0 611.2L1379.0 619.8L1408.0 615.1L1437.0 612.7L1466.0 605.6L1495.0 606.4L1524.0 606.4L1553.0 607.2L1582.0 614.3L1611.0 613.5L1640.0 612.7" stroke="#fde40b"/>
</g>
<path d="M132.0 447.7L145.6 449.0M183.0 464.8L190.0 469.4L195.0 471.7M233.4 485.0L247.2 486.9M287.2 499.2L300.6 502.7M341.9 506.3L355.7 506.6M397.4 509.8L408.8 517.6M447.0 527.1L451.0 527.2L460.8 527.8M501.9 533.1L509.0 534.4L515.0 537.2M552.4 555.3L564.6 561.8M599.5 584.2L611.3 591.5M647.2 611.8L654.0 615.4L660.1 616.5M700.9 626.4L712.0 629.9L714.0 630.9M751.5 647.6L764.9 651.5M804.7 656.0L818.1 652.0M856.5 635.1L857.0 634.8L868.9 629.0M906.8 612.6L915.0 609.5L920.1 610.1M958.5 603.1L970.1 595.4M1007.7 587.2L1019.7 580.0M1059.8 574.8L1060.0 574.8L1073.6 576.7M1115.1 580.9L1118.0 581.1L1128.9 581.8M1169.6 582.8L1176.0 582.7L1183.4 583.4M1222.3 593.7L1234.0 599.3L1235.0 599.2M1277.1 598.8L1290.9 599.9M1331.7 606.9L1345.3 609.5M1385.4 616.8L1399.2 615.3M1439.2 609.1L1452.8 606.2M1493.4 601.0L1495.0 600.9L1507.2 601.9M1549.5 605.3L1553.0 605.6L1563.2 607.6M1603.3 611.8L1611.0 612.0L1617.1 612.0" fill="none" stroke="#000" stroke-opacity="0.5" stroke-width="13.9" stroke-linejoin="miter" stroke-linecap="butt"/>
<rect x="57.5" y="374.4" width="1657.9" height="351.2" fill="none" stroke="#0d0d0d" stroke-width="1.8"/>
<rect x="1715.4" y="374.4" width="54.6" height="351.2" fill="#d9d9d9" stroke="#0d0d0d" stroke-width="1.8"/>
<rect x="1717.7" y="376.0" width="50.7" height="348.0" fill="none" stroke="#fff" stroke-opacity="0.55" stroke-width="1.3"/>
<path d="M1715.4 373.9V726.1" stroke="#303030" stroke-width="3"/>
<text transform="translate(1732.8 550.6) rotate(90) scale(0.958 1)" text-anchor="middle" font-size="29.8" fill="#111">Duration (hours)</text>
<path d="M47.7 650.0H57.0" stroke="#1a1a1a" stroke-width="3.1"/>
<text transform="translate(40.3 660.2) scale(0.94 1)" text-anchor="end" font-size="30.2" fill="#3a3a3a">2</text>
<path d="M47.7 541.5H57.0" stroke="#1a1a1a" stroke-width="3.1"/>
<text transform="translate(40.3 551.7) scale(0.94 1)" text-anchor="end" font-size="30.2" fill="#3a3a3a">4</text>
<path d="M47.7 433.0H57.0" stroke="#1a1a1a" stroke-width="3.1"/>
<text transform="translate(40.3 443.2) scale(0.94 1)" text-anchor="end" font-size="30.2" fill="#3a3a3a">6</text>
</g>
<g id="panel3">
<clipPath id="clip2"><rect x="60.1" y="748.1" width="1651.7" height="345.7"/></clipPath>
<path d="M60.1 1090.7H1711.8M60.1 1013.4H1711.8M60.1 936.1H1711.8M60.1 858.8H1711.8M60.1 781.5H1711.8M88.5 748.1V1093.8M175.5 748.1V1093.8M277.0 748.1V1093.8M393.0 748.1V1093.8M509.0 748.1V1093.8M625.0 748.1V1093.8M741.0 748.1V1093.8M857.0 748.1V1093.8M973.0 748.1V1093.8M1089.0 748.1V1093.8M1205.0 748.1V1093.8M1321.0 748.1V1093.8M1437.0 748.1V1093.8M1553.0 748.1V1093.8M1654.5 748.1V1093.8M1698.0 748.1V1093.8" stroke="#e9e9e9" stroke-width="1.8" fill="none"/>
<path d="M60.1 1052.0H1711.8M60.1 974.7H1711.8M60.1 897.4H1711.8M60.1 820.1H1711.8M132.0 748.1V1093.8M219.0 748.1V1093.8M335.0 748.1V1093.8M451.0 748.1V1093.8M567.0 748.1V1093.8M683.0 748.1V1093.8M799.0 748.1V1093.8M915.0 748.1V1093.8M1031.0 748.1V1093.8M1147.0 748.1V1093.8M1263.0 748.1V1093.8M1379.0 748.1V1093.8M1495.0 748.1V1093.8M1611.0 748.1V1093.8" stroke="#e9e9e9" stroke-width="3.5" fill="none"/>
<g clip-path="url(#clip2)" fill="none" stroke-linejoin="round" stroke-linecap="butt" stroke-width="3.5">
<path d="M132.0 1021.8L161.0 1013.3L190.0 999.5L219.0 976.9L248.0 953.8L277.0 933.4L306.0 920.3L335.0 932.9L364.0 917.1L393.0 912.7L422.0 911.2L451.0 922.6L480.0 936.0L509.0 939.3L538.0 936.7L567.0 930.9L596.0 927.8L625.0 917.5L654.0 909.5L683.0 895.9L712.0 863.7L741.0 830.8L770.0 815.7L799.0 845.4L828.0 888.3L857.0 926.9L886.0 959.3L915.0 986.6L944.0 1002.2L973.0 1042.7L1002.0 1047.8L1031.0 1062.6L1060.0 1062.8L1089.0 1059.9L1118.0 1056.6L1147.0 1041.5L1176.0 1030.6L1205.0 1023.1L1234.0 1002.5L1263.0 996.1L1292.0 988.5L1321.0 978.8L1350.0 947.4L1379.0 937.1L1408.0 971.1L1437.0 990.0L1466.0 1010.0L1495.0 1018.5L1524.0 1003.0L1553.0 999.7L1582.0 999.1L1611.0 998.8L1640.0 998.6" stroke="#440054"/>
<path d="M132.0 1023.3L161.0 1015.7L190.0 1001.1L219.0 978.2L248.0 955.6L277.0 933.8L306.0 923.8L335.0 933.2L364.0 919.2L393.0 915.0L422.0 913.5L451.0 925.0L480.0 938.5L509.0 942.0L538.0 938.9L567.0 933.1L596.0 930.2L625.0 919.1L654.0 912.1L683.0 898.0L712.0 866.7L741.0 832.2L770.0 820.0L799.0 849.8L828.0 891.1L857.0 931.0L886.0 961.5L915.0 991.7L944.0 1006.5L973.0 1052.0L1002.0 1053.0L1031.0 1081.7L1060.0 1072.0L1089.0 1068.0L1118.0 1058.7L1147.0 1044.0L1176.0 1034.6L1205.0 1028.5L1234.0 1005.0L1263.0 1001.0L1292.0 993.1L1321.0 983.9L1350.0 974.0L1379.0 972.4L1408.0 993.7L1437.0 1003.3L1466.0 1012.7L1495.0 1017.0L1524.0 1008.8L1553.0 1002.4L1582.0 1001.7L1611.0 1000.1L1640.0 999.1" stroke="#3e006a"/>
<path d="M132.0 1020.3L161.0 1013.5L190.0 998.6L219.0 975.2L248.0 954.1L277.0 932.0L306.0 919.1L335.0 930.7L364.0 916.9L393.0 911.2L422.0 911.6L451.0 921.0L480.0 933.9L509.0 937.2L538.0 936.5L567.0 929.7L596.0 926.5L625.0 916.4L654.0 909.1L683.0 895.7L712.0 859.4L741.0 827.5L770.0 814.4L799.0 840.0L828.0 882.0L857.0 925.0L886.0 958.0L915.0 984.9L944.0 1001.2L973.0 1042.3L1002.0 1044.3L1031.0 1058.5L1060.0 1059.6L1089.0 1056.2L1118.0 1055.6L1147.0 1037.1L1176.0 1028.2L1205.0 1023.6L1234.0 998.1L1263.0 993.7L1292.0 989.0L1321.0 976.8L1350.0 969.4L1379.0 968.7L1408.0 986.7L1437.0 997.3L1466.0 1007.1L1495.0 1011.1L1524.0 1002.5L1553.0 999.2L1582.0 997.6L1611.0 998.3L1640.0 998.1" stroke="#36147b"/>
<path d="M132.0 1010.8L161.0 1004.5L190.0 984.6L219.0 963.0L248.0 946.7L277.0 922.3L306.0 902.4L335.0 911.5L364.0 898.8L393.0 898.8L422.0 892.7L451.0 908.9L480.0 924.8L509.0 924.8L538.0 905.3L567.0 890.9L596.0 882.7L625.0 862.0L654.0 866.5L683.0 868.0L712.0 825.4L741.0 793.0L770.0 801.0L799.0 840.0L828.0 889.0L857.0 935.0L886.0 962.0L915.0 991.6L944.0 1009.1L973.0 1047.2L1002.0 1052.0L1031.0 1068.5L1060.0 1066.2L1089.0 1065.4L1118.0 1063.3L1147.0 1047.0L1176.0 1039.2L1205.0 1029.9L1234.0 1006.1L1263.0 1000.4L1292.0 995.5L1321.0 983.1L1350.0 978.3L1379.0 973.6L1408.0 997.0L1437.0 1007.0L1466.0 1013.8L1495.0 1014.9L1524.0 1008.1L1553.0 1004.2L1582.0 1001.5L1611.0 999.9L1640.0 999.0" stroke="#2c2a86"/>
<path d="M132.0 1013.5L161.0 1007.0L190.0 984.6L219.0 948.5L248.0 932.2L277.0 907.9L306.0 909.7L335.0 928.0L364.0 912.0L393.0 898.0L422.0 897.2L451.0 923.0L480.0 937.0L509.0 941.0L538.0 941.0L567.0 935.0L596.0 943.2L625.0 944.1L654.0 939.6L683.0 919.8L712.0 876.4L741.0 846.0L770.0 838.0L799.0 868.0L828.0 895.0L857.0 932.0L886.0 963.0L915.0 995.3L944.0 1012.3L973.0 1052.1L1002.0 1054.9L1031.0 1071.3L1060.0 1070.9L1089.0 1067.7L1118.0 1066.9L1147.0 1050.1L1176.0 1039.5L1205.0 1033.4L1234.0 1012.9L1263.0 1002.8L1292.0 996.8L1321.0 986.3L1350.0 980.3L1379.0 978.3L1408.0 1011.4L1437.0 1017.7L1466.0 1022.5L1495.0 1021.7L1524.0 1010.0L1553.0 1003.0L1582.0 1000.0L1611.0 1001.0L1640.0 999.3" stroke="#21408b"/>
<path d="M132.0 1024.4L161.0 1016.7L190.0 1002.9L219.0 978.2L248.0 956.4L277.0 934.5L306.0 923.4L335.0 933.5L364.0 920.2L393.0 914.1L422.0 915.7L451.0 925.2L480.0 938.1L509.0 941.8L538.0 940.5L567.0 933.7L596.0 931.1L625.0 920.3L654.0 911.2L683.0 912.0L712.0 879.0L741.0 857.0L770.0 846.0L799.0 876.0L828.0 906.0L857.0 940.0L886.0 968.0L915.0 1010.6L944.0 1018.5L973.0 1069.9L1002.0 1065.9L1031.0 1078.6L1060.0 1073.0L1089.0 1077.0L1118.0 1073.8L1147.0 1047.0L1176.0 1042.2L1205.0 1035.9L1234.0 1012.2L1263.0 1008.2L1292.0 1006.7L1321.0 993.2L1350.0 981.4L1379.0 979.8L1408.0 1005.0L1437.0 1010.0L1466.0 1014.0L1495.0 1018.1L1524.0 1008.7L1553.0 1003.6L1582.0 1001.8L1611.0 999.8L1640.0 999.0" stroke="#16568d"/>
<path d="M132.0 1017.5L161.0 1009.9L190.0 995.7L219.0 972.8L248.0 950.5L277.0 928.0L306.0 917.3L335.0 927.7L364.0 912.8L393.0 908.3L422.0 907.9L451.0 918.3L480.0 930.9L509.0 935.1L538.0 933.4L567.0 927.2L596.0 923.9L625.0 912.6L654.0 905.9L683.0 891.5L712.0 857.1L741.0 822.6L770.0 796.2L799.0 822.3L828.0 868.0L857.0 915.0L886.0 955.0L915.0 978.4L944.0 993.0L973.0 1034.5L1002.0 1035.1L1031.0 1052.3L1060.0 1054.3L1089.0 1052.2L1118.0 1048.8L1147.0 1025.6L1176.0 1024.5L1205.0 1017.6L1234.0 995.1L1263.0 985.8L1292.0 982.0L1321.0 968.1L1350.0 961.2L1379.0 961.8L1408.0 982.6L1437.0 992.4L1466.0 1001.4L1495.0 1002.3L1524.0 998.5L1553.0 993.3L1582.0 994.6L1611.0 995.6L1640.0 997.2" stroke="#0d698e"/>
<path d="M132.0 1016.4L161.0 1009.3L190.0 993.9L219.0 971.1L248.0 950.4L277.0 927.2L306.0 915.3L335.0 927.7L364.0 912.6L393.0 907.1L422.0 907.5L451.0 917.3L480.0 930.0L509.0 933.7L538.0 931.7L567.0 926.2L596.0 923.3L625.0 911.8L654.0 904.2L683.0 891.5L712.0 854.5L741.0 804.0L770.0 775.7L799.0 817.5L828.0 863.3L857.0 910.0L886.0 952.0L915.0 975.2L944.0 990.9L973.0 1035.3L1002.0 1035.5L1031.0 1050.3L1060.0 1052.6L1089.0 1051.7L1118.0 1047.4L1147.0 1032.2L1176.0 1022.7L1205.0 1014.4L1234.0 990.0L1263.0 964.8L1292.0 964.8L1321.0 969.5L1350.0 932.4L1379.0 925.3L1408.0 947.4L1437.0 963.2L1466.0 971.1L1495.0 979.8L1524.0 985.3L1553.0 990.9L1582.0 994.8L1611.0 996.4L1640.0 997.2" stroke="#057e8e"/>
<path d="M132.0 1018.9L161.0 1011.8L190.0 997.8L219.0 972.8L248.0 952.4L277.0 930.7L306.0 919.3L335.0 929.5L364.0 914.8L393.0 910.1L422.0 910.7L451.0 920.4L480.0 933.1L509.0 936.7L538.0 934.1L567.0 928.4L596.0 924.5L625.0 915.0L654.0 907.8L683.0 893.7L712.0 855.0L741.0 795.4L770.0 759.9L799.0 807.3L828.0 852.3L857.0 899.7L886.0 945.5L915.0 980.7L944.0 998.2L973.0 1038.5L1002.0 1039.3L1031.0 1058.2L1060.0 1057.3L1089.0 1056.3L1118.0 1053.4L1147.0 1035.3L1176.0 1026.5L1205.0 1021.1L1234.0 995.6L1263.0 991.0L1292.0 986.0L1321.0 973.1L1350.0 968.2L1379.0 964.0L1408.0 985.9L1437.0 995.9L1466.0 1006.4L1495.0 1006.0L1524.0 1001.5L1553.0 998.0L1582.0 996.7L1611.0 997.5L1640.0 997.6" stroke="#02918b"/>
<path d="M132.0 1022.9L161.0 1015.8L190.0 1000.3L219.0 977.8L248.0 957.0L277.0 934.2L306.0 923.5L335.0 932.6L364.0 918.7L393.0 912.7L422.0 914.0L451.0 924.0L480.0 936.5L509.0 940.4L538.0 939.1L567.0 936.0L596.0 934.0L625.0 927.0L654.0 920.0L683.0 905.0L712.0 866.0L741.0 831.9L770.0 818.5L799.0 842.0L828.0 884.0L857.0 926.0L886.0 959.0L915.0 990.0L944.0 1003.7L973.0 1046.2L1002.0 1050.8L1031.0 1064.9L1060.0 1065.4L1089.0 1064.3L1118.0 1061.4L1147.0 1041.7L1176.0 1034.9L1205.0 1026.4L1234.0 1004.7L1263.0 998.5L1292.0 993.2L1321.0 982.8L1350.0 976.4L1379.0 971.2L1408.0 992.9L1437.0 1002.1L1466.0 1011.7L1495.0 1003.5L1524.0 987.0L1553.0 971.9L1582.0 972.7L1611.0 986.1L1640.0 991.6" stroke="#00a082"/>
<path d="M132.0 1018.5L161.0 1012.0L190.0 997.3L219.0 974.5L248.0 953.4L277.0 931.4L306.0 918.6L335.0 930.3L364.0 916.2L393.0 909.9L422.0 910.4L451.0 920.5L480.0 933.2L509.0 937.4L538.0 935.0L567.0 929.0L596.0 926.6L625.0 916.2L654.0 907.7L683.0 894.0L712.0 859.3L741.0 825.3L770.0 811.7L799.0 838.0L828.0 880.0L857.0 924.0L886.0 958.0L915.0 971.9L944.0 979.8L973.0 1026.4L1002.0 1028.8L1031.0 1050.0L1060.0 1048.0L1089.0 1045.4L1118.0 1045.4L1147.0 1031.0L1176.0 1017.7L1205.0 1020.3L1234.0 987.0L1263.0 977.4L1292.0 968.0L1321.0 959.3L1350.0 951.4L1379.0 948.2L1408.0 974.3L1437.0 1010.0L1466.0 1023.0L1495.0 1026.4L1524.0 1013.8L1553.0 1005.0L1582.0 997.6L1611.0 997.4L1640.0 998.1" stroke="#0cae76"/>
<path d="M132.0 1018.4L161.0 1011.8L190.0 997.0L219.0 973.6L248.0 951.5L277.0 930.4L306.0 918.8L335.0 928.3L364.0 914.0L393.0 909.7L422.0 908.8L451.0 920.6L480.0 931.8L509.0 936.0L538.0 931.5L567.0 912.5L596.0 903.5L625.0 894.5L654.0 888.1L683.0 885.4L712.0 863.6L741.0 825.7L770.0 812.3L799.0 830.0L828.0 874.0L857.0 919.0L886.0 956.0L915.0 980.2L944.0 996.9L973.0 1038.2L1002.0 1041.2L1031.0 1053.6L1060.0 1057.0L1089.0 1054.1L1118.0 1049.9L1147.0 1033.7L1176.0 1026.4L1205.0 1017.9L1234.0 995.8L1263.0 990.3L1292.0 981.9L1321.0 972.9L1350.0 967.1L1379.0 964.3L1408.0 985.6L1437.0 994.5L1466.0 1001.7L1495.0 1005.5L1524.0 1001.1L1553.0 995.9L1582.0 995.0L1611.0 996.3L1640.0 997.7" stroke="#2cbc68"/>
<path d="M132.0 1021.1L161.0 1013.5L190.0 998.9L219.0 975.3L248.0 954.6L277.0 933.6L306.0 921.2L335.0 931.2L364.0 918.2L393.0 912.7L422.0 912.5L451.0 923.3L480.0 944.0L509.0 948.0L538.0 946.0L567.0 938.0L596.0 935.0L625.0 926.0L654.0 915.0L683.0 896.1L712.0 862.5L741.0 823.8L770.0 802.5L799.0 827.0L828.0 872.0L857.0 918.0L886.0 956.0L915.0 987.1L944.0 1002.0L973.0 1043.3L1002.0 1047.2L1031.0 1063.2L1060.0 1063.0L1089.0 1058.4L1118.0 1056.3L1147.0 1040.9L1176.0 1031.9L1205.0 1023.3L1234.0 1004.2L1263.0 996.5L1292.0 989.4L1321.0 973.0L1350.0 961.6L1379.0 952.1L1408.0 998.0L1437.0 1020.0L1466.0 1041.4L1495.0 1045.4L1524.0 1026.4L1553.0 1009.0L1582.0 1004.3L1611.0 1001.0L1640.0 998.8" stroke="#51c956"/>
<path d="M132.0 1028.8L161.0 1028.0L190.0 1016.2L219.0 998.2L248.0 970.2L277.0 940.4L306.0 929.5L335.0 937.7L364.0 927.7L393.0 929.5L422.0 928.8L451.0 933.3L480.0 946.0L509.0 950.4L538.0 948.6L567.0 941.4L596.0 946.0L625.0 930.6L654.0 923.4L683.0 917.0L712.0 876.0L741.0 841.0L770.0 823.0L799.0 850.0L828.0 876.0L857.0 921.0L886.0 957.0L915.0 991.8L944.0 1005.7L973.0 1047.4L1002.0 1048.1L1031.0 1063.7L1060.0 1065.0L1089.0 1063.9L1118.0 1059.2L1147.0 1045.2L1176.0 1037.0L1205.0 1026.8L1234.0 1007.4L1263.0 998.7L1292.0 992.7L1321.0 981.8L1350.0 976.3L1379.0 974.1L1408.0 993.2L1437.0 1005.4L1466.0 1015.1L1495.0 1015.7L1524.0 1008.0L1553.0 1002.0L1582.0 1000.2L1611.0 1000.4L1640.0 998.9" stroke="#7ad43b"/>
<path d="M132.0 1018.5L161.0 1011.9L190.0 996.6L219.0 973.5L248.0 952.4L277.0 931.0L306.0 918.8L335.0 929.7L364.0 914.8L393.0 910.2L422.0 910.4L451.0 920.8L480.0 946.0L509.0 951.0L538.0 950.0L567.0 940.0L596.0 930.0L625.0 912.0L654.0 900.0L683.0 890.0L712.0 857.7L741.0 841.2L770.0 823.0L799.0 836.5L828.0 879.0L857.0 923.0L886.0 958.0L915.0 982.1L944.0 995.8L973.0 1037.5L1002.0 1040.6L1031.0 1055.5L1060.0 1057.6L1089.0 1055.3L1118.0 1052.9L1147.0 1033.8L1176.0 1026.9L1205.0 1020.9L1234.0 995.9L1263.0 991.2L1292.0 985.4L1321.0 974.0L1350.0 966.3L1379.0 963.4L1408.0 986.3L1437.0 997.6L1466.0 1004.7L1495.0 1008.2L1524.0 1000.4L1553.0 997.5L1582.0 995.8L1611.0 997.6L1640.0 997.9" stroke="#a7dc1b"/>
<path d="M132.0 1031.6L161.0 1030.7L190.0 1009.9L219.0 982.8L248.0 963.0L277.0 943.0L306.0 932.2L335.0 942.2L364.0 929.5L393.0 926.0L422.0 918.0L451.0 923.4L480.0 948.6L509.0 954.0L538.0 952.3L567.0 941.4L596.0 932.4L625.0 907.1L654.0 892.7L683.0 888.1L712.0 860.0L741.0 826.0L770.0 812.0L799.0 834.0L828.0 877.0L857.0 922.0L886.0 957.0L915.0 981.7L944.0 997.6L973.0 1038.9L1002.0 1044.0L1031.0 1058.8L1060.0 1058.0L1089.0 1057.3L1118.0 1052.0L1147.0 1037.2L1176.0 1017.0L1205.0 1007.4L1234.0 982.2L1263.0 976.6L1292.0 978.2L1321.0 969.5L1350.0 963.2L1379.0 961.6L1408.0 979.0L1437.0 987.7L1466.0 1000.3L1495.0 1006.7L1524.0 1002.7L1553.0 997.1L1582.0 996.3L1611.0 997.7L1640.0 998.0" stroke="#d7e201"/>
<path d="M132.0 1020.9L161.0 1014.1L190.0 999.5L219.0 976.2L248.0 954.5L277.0 933.4L306.0 921.6L335.0 932.7L364.0 917.0L393.0 912.5L422.0 912.7L451.0 922.5L480.0 935.6L509.0 938.9L538.0 937.7L567.0 931.7L596.0 927.7L625.0 917.5L654.0 909.1L683.0 896.1L712.0 853.9L741.0 814.4L770.0 789.9L799.0 816.0L828.0 857.0L857.0 904.4L886.0 948.7L915.0 987.1L944.0 1001.8L973.0 1044.8L1002.0 1044.4L1031.0 1060.4L1060.0 1063.2L1089.0 1059.0L1118.0 1057.9L1147.0 1040.4L1176.0 1031.4L1205.0 1023.2L1234.0 1003.8L1263.0 994.1L1292.0 988.3L1321.0 977.9L1350.0 973.0L1379.0 968.9L1408.0 992.0L1437.0 1001.8L1466.0 1010.1L1495.0 1012.0L1524.0 1003.9L1553.0 1000.1L1582.0 999.6L1611.0 998.8L1640.0 998.3" stroke="#fde40b"/>
</g>
<path d="M132.1 1020.7L145.5 1017.3M183.6 1002.2L190.0 999.0L195.2 994.8M228.0 968.8L239.2 960.5M272.2 935.8L277.0 932.2L284.3 929.2M323.7 927.1L335.0 931.3L336.6 930.5M375.8 914.7L389.4 912.2M430.5 914.8L443.5 919.7M481.6 935.3L495.4 937.0M536.8 937.0L538.0 936.9L550.4 934.2M590.9 927.6L596.0 927.0L604.3 924.1M643.4 911.9L654.0 908.9L656.7 907.7M691.7 885.7L700.7 875.1M726.5 845.2L735.7 834.7M770.4 815.6L780.2 825.5M807.0 856.1L814.8 867.6M838.4 901.2L846.6 912.4M871.0 941.7L880.4 952.0M911.9 982.4L915.0 985.3L923.5 989.9M954.5 1016.0L962.5 1027.3M997.7 1044.2L1002.0 1044.6L1010.4 1049.2M1047.2 1060.8L1060.0 1061.2L1061.0 1061.1M1101.7 1057.4L1115.5 1055.9M1152.4 1037.6L1165.8 1033.9M1206.4 1022.2L1217.4 1013.7M1254.1 996.2L1263.0 994.0L1267.7 993.1M1307.3 982.6L1320.3 977.7M1360.6 969.5L1374.4 968.4M1409.1 990.0L1422.3 994.5M1461.9 1007.0L1466.0 1008.2L1475.6 1009.0M1516.4 1005.3L1524.0 1003.5L1530.1 1002.7M1571.7 998.7L1582.0 998.3L1585.5 998.3M1626.5 998.3L1640.0 998.3" fill="none" stroke="#000" stroke-opacity="0.5" stroke-width="13.9" stroke-linejoin="miter" stroke-linecap="butt"/>
<rect x="57.5" y="745.4" width="1657.9" height="351.2" fill="none" stroke="#0d0d0d" stroke-width="1.8"/>
<rect x="1715.4" y="745.4" width="54.6" height="351.2" fill="#d9d9d9" stroke="#0d0d0d" stroke-width="1.8"/>
<rect x="1717.7" y="747.0" width="50.7" height="348.0" fill="none" stroke="#fff" stroke-opacity="0.55" stroke-width="1.3"/>
<path d="M1715.4 744.9V1097.1" stroke="#303030" stroke-width="3"/>
<text transform="translate(1732.8 921.6) rotate(90) scale(0.958 1)" text-anchor="middle" font-size="29.8" fill="#111">Nb of hauls per DaS</text>
<path d="M47.7 1052.0H57.0" stroke="#1a1a1a" stroke-width="3.1"/>
<text transform="translate(40.3 1062.2) scale(0.94 1)" text-anchor="end" font-size="30.2" fill="#3a3a3a">1.8</text>
<path d="M47.7 974.7H57.0" stroke="#1a1a1a" stroke-width="3.1"/>
<text transform="translate(40.3 984.9) scale(0.94 1)" text-anchor="end" font-size="30.2" fill="#3a3a3a">2.0</text>
<path d="M47.7 897.4H57.0" stroke="#1a1a1a" stroke-width="3.1"/>
<text transform="translate(40.3 907.6) scale(0.94 1)" text-anchor="end" font-size="30.2" fill="#3a3a3a">2.2</text>
<path d="M47.7 820.1H57.0" stroke="#1a1a1a" stroke-width="3.1"/>
<text transform="translate(40.3 830.3) scale(0.94 1)" text-anchor="end" font-size="30.2" fill="#3a3a3a">2.4</text>
</g>
<g id="xaxis">
<path d="M132.0 1097.1V1106.2" stroke="#1a1a1a" stroke-width="3.1"/>
<text transform="translate(131.6 1132.1) scale(0.945 1)" text-anchor="middle" font-size="27.1" fill="#3a3a3a">1</text>
<path d="M219.0 1097.1V1106.2" stroke="#1a1a1a" stroke-width="3.1"/>
<text transform="translate(218.6 1132.1) scale(0.945 1)" text-anchor="middle" font-size="27.1" fill="#3a3a3a">4</text>
<path d="M335.0 1097.1V1106.2" stroke="#1a1a1a" stroke-width="3.1"/>
<text transform="translate(334.6 1132.1) scale(0.945 1)" text-anchor="middle" font-size="27.1" fill="#3a3a3a">8</text>
<path d="M451.0 1097.1V1106.2" stroke="#1a1a1a" stroke-width="3.1"/>
<text transform="translate(450.6 1132.1) scale(0.945 1)" text-anchor="middle" font-size="27.1" fill="#3a3a3a">12</text>
<path d="M567.0 1097.1V1106.2" stroke="#1a1a1a" stroke-width="3.1"/>
<text transform="translate(566.6 1132.1) scale(0.945 1)" text-anchor="middle" font-size="27.1" fill="#3a3a3a">16</text>
<path d="M683.0 1097.1V1106.2" stroke="#1a1a1a" stroke-width="3.1"/>
<text transform="translate(682.6 1132.1) scale(0.945 1)" text-anchor="middle" font-size="27.1" fill="#3a3a3a">20</text>
<path d="M799.0 1097.1V1106.2" stroke="#1a1a1a" stroke-width="3.1"/>
<text transform="translate(798.6 1132.1) scale(0.945 1)" text-anchor="middle" font-size="27.1" fill="#3a3a3a">24</text>
<path d="M915.0 1097.1V1106.2" stroke="#1a1a1a" stroke-width="3.1"/>
<text transform="translate(914.6 1132.1) scale(0.945 1)" text-anchor="middle" font-size="27.1" fill="#3a3a3a">28</text>
<path d="M1031.0 1097.1V1106.2" stroke="#1a1a1a" stroke-width="3.1"/>
<text transform="translate(1030.6 1132.1) scale(0.945 1)" text-anchor="middle" font-size="27.1" fill="#3a3a3a">32</text>
<path d="M1147.0 1097.1V1106.2" stroke="#1a1a1a" stroke-width="3.1"/>
<text transform="translate(1146.6 1132.1) scale(0.945 1)" text-anchor="middle" font-size="27.1" fill="#3a3a3a">36</text>
<path d="M1263.0 1097.1V1106.2" stroke="#1a1a1a" stroke-width="3.1"/>
<text transform="translate(1262.6 1132.1) scale(0.945 1)" text-anchor="middle" font-size="27.1" fill="#3a3a3a">40</text>
<path d="M1379.0 1097.1V1106.2" stroke="#1a1a1a" stroke-width="3.1"/>
<text transform="translate(1378.6 1132.1) scale(0.945 1)" text-anchor="middle" font-size="27.1" fill="#3a3a3a">44</text>
<path d="M1495.0 1097.1V1106.2" stroke="#1a1a1a" stroke-width="3.1"/>
<text transform="translate(1494.6 1132.1) scale(0.945 1)" text-anchor="middle" font-size="27.1" fill="#3a3a3a">48</text>
<path d="M1611.0 1097.1V1106.2" stroke="#1a1a1a" stroke-width="3.1"/>
<text transform="translate(1610.6 1132.1) scale(0.945 1)" text-anchor="middle" font-size="27.1" fill="#3a3a3a">52</text>
<text transform="translate(885.6 1172.3) scale(0.962 1)" text-anchor="middle" font-size="37.1" fill="#000"># Week</text>
</g>
<g id="legend">
<defs><linearGradient id="vir" x1="0" x2="1" y1="0" y2="0"><stop offset="0.0000" stop-color="#440154"/><stop offset="0.0500" stop-color="#471365"/><stop offset="0.1000" stop-color="#482475"/><stop offset="0.1500" stop-color="#463480"/><stop offset="0.2000" stop-color="#414487"/><stop offset="0.2500" stop-color="#3b528b"/><stop offset="0.3000" stop-color="#355f8d"/><stop offset="0.3500" stop-color="#2f6c8e"/><stop offset="0.4000" stop-color="#2a788e"/><stop offset="0.4500" stop-color="#25848e"/><stop offset="0.5000" stop-color="#21918c"/><stop offset="0.5500" stop-color="#1e9c89"/><stop offset="0.6000" stop-color="#22a884"/><stop offset="0.6500" stop-color="#2fb47c"/><stop offset="0.7000" stop-color="#44bf70"/><stop offset="0.7500" stop-color="#5ec962"/><stop offset="0.8000" stop-color="#7ad151"/><stop offset="0.8500" stop-color="#9bd93c"/><stop offset="0.9000" stop-color="#bddf26"/><stop offset="0.9500" stop-color="#dfe318"/><stop offset="1.0000" stop-color="#fde725"/></linearGradient></defs>
<rect x="467.8" y="1233.0" width="924.0" height="56.0" fill="url(#vir)"/>
<path d="M468.8 1233.0V1244.2M468.8 1277.8V1289.0" stroke="#fff" stroke-width="1.2"/>
<text transform="translate(468.4 1327.3) scale(0.935 1)" text-anchor="middle" font-size="30.6" fill="#000">2004</text>
<path d="M699.2 1233.0V1244.2M699.2 1277.8V1289.0" stroke="#fff" stroke-width="1.2"/>
<text transform="translate(698.9 1327.3) scale(0.935 1)" text-anchor="middle" font-size="30.6" fill="#000">2008</text>
<path d="M929.7 1233.0V1244.2M929.7 1277.8V1289.0" stroke="#fff" stroke-width="1.2"/>
<text transform="translate(929.3 1327.3) scale(0.935 1)" text-anchor="middle" font-size="30.6" fill="#000">2012</text>
<path d="M1160.1 1233.0V1244.2M1160.1 1277.8V1289.0" stroke="#fff" stroke-width="1.2"/>
<text transform="translate(1159.7 1327.3) scale(0.935 1)" text-anchor="middle" font-size="30.6" fill="#000">2016</text>
<path d="M1390.6 1233.0V1244.2M1390.6 1277.8V1289.0" stroke="#fff" stroke-width="1.2"/>
<text transform="translate(1390.2 1327.3) scale(0.935 1)" text-anchor="middle" font-size="30.6" fill="#000">2020</text>
<text transform="translate(415.5 1296.0) scale(0.983 1)" text-anchor="middle" font-size="36.1" fill="#000">year</text>
</g>
</svg>
</body></html>
